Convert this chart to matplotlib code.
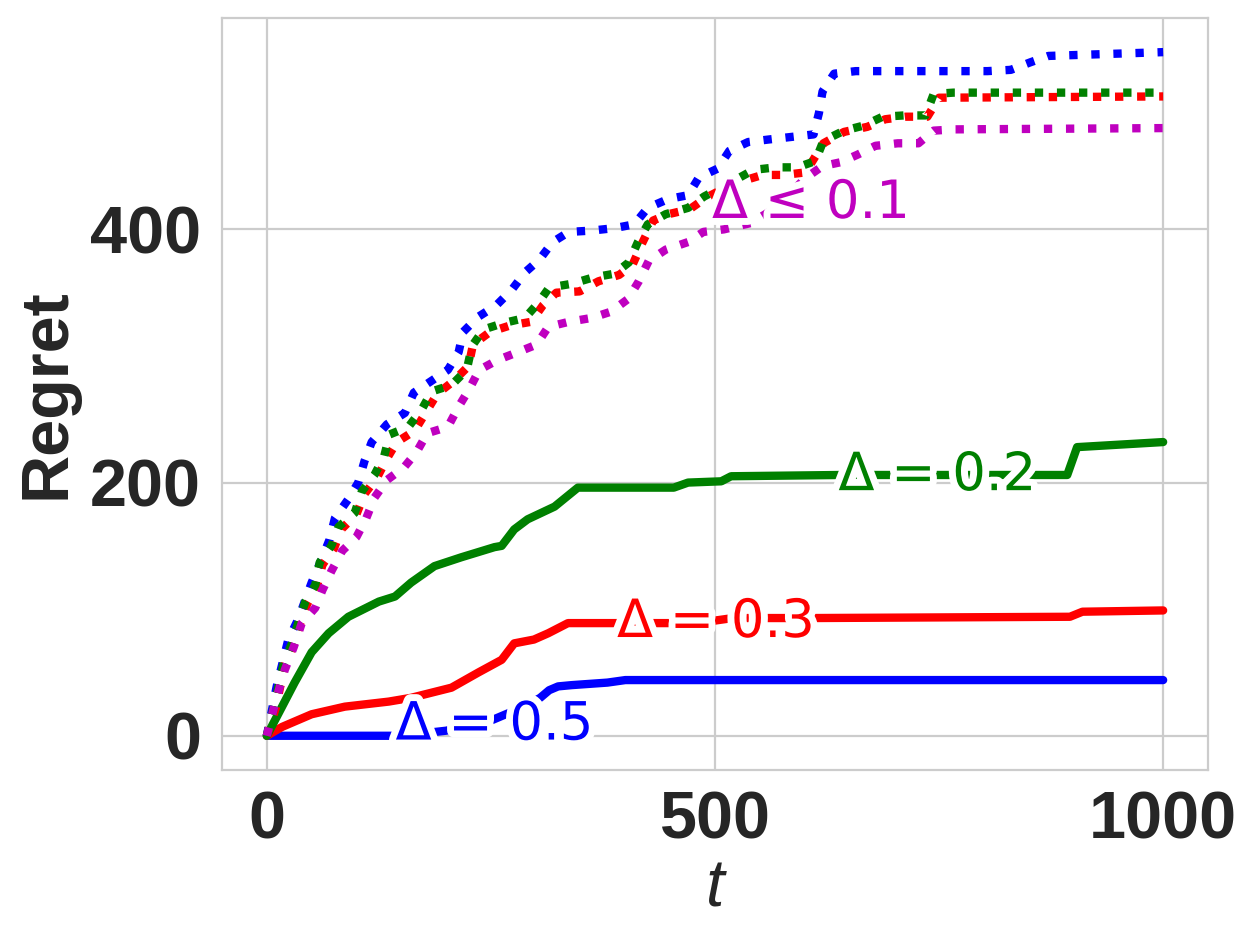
import matplotlib
matplotlib.use('Agg')
import matplotlib.pyplot as plt
import matplotlib.patheffects as pe
import seaborn as sns

sns.set_style('whitegrid')
plt.rcParams['font.family'] = ['Liberation Sans', 'DejaVu Sans']

# solid lines (single gap)
t_b5 = [0, 150, 200, 250, 290, 305, 315, 325, 340, 380, 400, 1000]
r_b5 = [0, 0, 4, 12, 24, 30, 36, 39, 40, 42, 44, 44]

t_r3 = [0, 17, 50, 87, 136, 161, 206, 236, 262, 276, 298, 314, 336, 384, 480, 520, 610, 896, 910, 1000]
r_r3 = [0, 7, 17, 23, 27, 30, 38, 50, 60, 73, 76, 81, 89, 89, 89, 93, 93, 94, 98, 99]

t_g2 = [0, 17, 31, 50, 69, 91, 125, 143, 161, 187, 217, 254, 262, 276, 291, 321, 347, 384, 454, 470,
        507, 518, 640, 893, 904, 1000]
r_g2 = [0, 23, 42, 66, 81, 94, 106, 110, 121, 134, 141, 149, 150, 163, 171, 181, 196, 196, 196, 200,
        201, 205, 206, 206, 228, 232]

# dotted lines (small gaps)
t_bd = [0, 11, 24, 35, 50, 61, 70, 76, 91, 102, 109, 117, 134, 154, 164, 183, 202, 214, 219, 236,
        256, 273, 288, 304, 319, 337, 362, 388, 410, 425, 448, 470, 482, 503, 516, 537, 560, 585,
        610, 616, 620, 633, 657, 804, 830, 852, 872, 1000]
r_bd = [0, 39, 76, 92, 121, 139, 155, 172, 187, 200, 217, 232, 246, 255, 271, 280, 289, 303, 319, 331,
        340, 352, 366, 376, 390, 398, 399, 401, 404, 417, 424, 427, 441, 448, 462, 469, 471, 473,
        475, 492, 509, 523, 525, 525, 526, 532, 537, 540]

t_rd = [0, 10, 20, 30, 37, 45, 56, 62, 75, 83, 100, 109, 123, 134, 145, 165, 190, 208, 225, 230,
        249, 271, 295, 308, 323, 349, 370, 393, 408, 418, 431, 448, 472, 490, 520, 553, 577, 601,
        621, 644, 670, 690, 713, 737, 750, 1000]
r_rd = [0, 22, 56, 72, 88, 104, 118, 135, 148, 163, 175, 191, 204, 219, 232, 241, 270, 280, 292, 309,
        319, 324, 327, 340, 350, 351, 359, 364, 372, 388, 407, 412, 416, 425, 436, 443, 443, 445,
        468, 477, 481, 487, 489, 489, 504, 505]

t_gd = [0, 8, 19, 28, 35, 43, 54, 59, 72, 80, 98, 106, 120, 131, 137, 158, 173, 184, 206, 223,
        229, 242, 264, 288, 303, 315, 340, 364, 388, 404, 414, 425, 445, 470, 488, 520, 543, 568,
        592, 612, 621, 644, 666, 687, 711, 735, 744, 766, 1000]
r_gd = [0, 23, 58, 73, 89, 106, 119, 137, 150, 165, 176, 193, 206, 221, 238, 244, 258, 272, 277, 289,
        308, 321, 326, 330, 342, 354, 357, 362, 365, 374, 390, 404, 412, 417, 426, 438, 447, 449,
        449, 454, 470, 478, 482, 489, 490, 490, 507, 508, 508]

t_md = [0, 10, 20, 30, 39, 54, 62, 72, 84, 100, 111, 120, 134, 153, 167, 179, 202, 214, 226, 237,
        258, 280, 301, 314, 337, 362, 384, 403, 415, 426, 445, 470, 487, 510, 540, 570, 600, 620,
        640, 659, 679, 704, 727, 744, 768, 1000]
r_md = [0, 28, 52, 70, 89, 101, 115, 130, 146, 157, 172, 188, 202, 212, 224, 239, 244, 260, 274, 289,
        297, 303, 309, 323, 327, 330, 335, 345, 359, 375, 384, 390, 398, 400, 405, 418, 440, 450,
        453, 459, 466, 468, 468, 478, 479, 480]

fig = plt.figure(figsize=(6.3, 4.7), dpi=200)
ax = fig.add_axes([0.1762, 0.1809, 0.7825, 0.8])

lw = 3
ax.plot(t_b5, r_b5, '-', color='b', lw=lw, solid_capstyle='round', solid_joinstyle='round')
ax.plot(t_r3, r_r3, '-', color='r', lw=lw, solid_capstyle='round', solid_joinstyle='round')
ax.plot(t_g2, r_g2, '-', color='g', lw=lw, solid_capstyle='round', solid_joinstyle='round')
ax.plot(t_bd, r_bd, ':', color='b', lw=lw)
ax.plot(t_rd, r_rd, ':', color='r', lw=lw)
ax.plot(t_gd, r_gd, ':', color='g', lw=lw)
ax.plot(t_md, r_md, ':', color='m', lw=lw)

# inline labels with white outline
outline = [pe.withStroke(linewidth=5, foreground='w')]
labels = [('Δ = 0.5', 254, -3, 'b'), ('Δ = 0.3', 501, 78, 'r'),
          ('Δ = 0.2', 748, 194, 'g'), ('Δ ≤ 0.1', 607, 409, 'm')]
for txt, x, y, c in labels:
    ax.text(x, y, txt, color=c, fontsize=19, family='DejaVu Sans', ha='center', va='baseline',
            path_effects=outline, zorder=5)

ax.set_xticks([0, 500, 1000])
ax.set_yticks([0, 200, 400])
ax.tick_params(labelsize=24, pad=4)
for lab in ax.get_xticklabels() + ax.get_yticklabels():
    lab.set_fontweight('bold')
ax.set_xlabel('t', fontsize=24, fontstyle='italic', labelpad=2)
ax.set_ylabel('Regret', fontsize=24, fontweight='bold', labelpad=4)

fig.savefig('out.png', dpi=200)
